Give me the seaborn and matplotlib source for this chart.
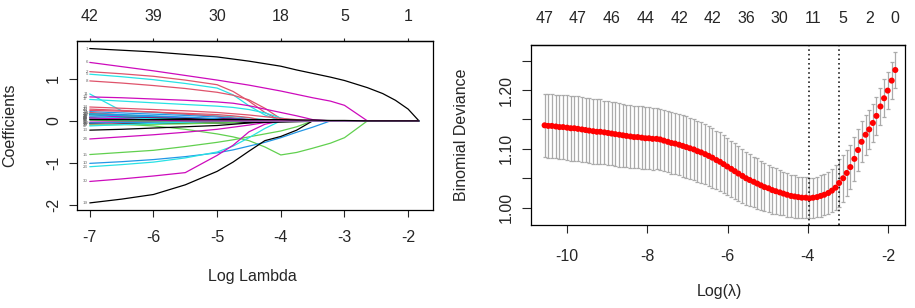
import numpy as np
import pandas as pd
import matplotlib
matplotlib.use('Agg')
import matplotlib.pyplot as plt
import seaborn as sns

# ---- left panel: coefficient paths (values read at a common log-lambda grid) ----
path_grid = [-7.0, -6.5, -6.0, -5.5, -5.0, -4.75, -4.5, -4.25, -4.0, -3.75,
             -3.5, -3.22, -3.0, -2.64, -2.4, -2.2, -2.0, -1.83]

path_ids = [1, 6, 2, 5, 8, 11, 12, 17, 14, 20, 4, 3, 7, 18,
            9, 13, 24, 15, 10, 23, 30, 19,
            26, 21, 16, 29, 36, 25, 32, 27, 22, 35, 42, 31, 38, 33, 28, 41, 44, 34, 47, 39, 45, 37]
path_colors = ['black', 'magenta', 'red', 'cyan', 'red', 'cyan', 'magenta', 'cyan', 'red', 'red',
               'blue', 'green', 'black', 'magenta',
               'green', 'black', 'magenta', 'green', 'blue', 'cyan', 'magenta', 'black',
               'red', 'green', 'blue', 'cyan', 'magenta', 'black', 'red', 'green', 'blue', 'cyan',
               'magenta', 'black', 'red', 'green', 'blue', 'cyan', 'red', 'blue', 'cyan', 'green',
               'magenta', 'black']
coef_paths = [
    [1.72, 1.68, 1.64, 1.58, 1.52, 1.47, 1.42, 1.36, 1.30, 1.21, 1.13, 1.04, 0.96, 0.79, 0.65, 0.49, 0.28, 0],
    [1.39, 1.29, 1.19, 1.08, 0.97, 0.91, 0.85, 0.78, 0.71, 0.63, 0.55, 0.47, 0.37, 0, 0, 0, 0, 0],
    [1.17, 1.12, 1.06, 0.97, 0.86, 0.70, 0.47, 0.20, 0, 0, 0, 0, 0, 0, 0, 0, 0, 0],
    [1.11, 1.05, 0.98, 0.89, 0.78, 0.62, 0.36, 0.14, 0, 0, 0, 0, 0, 0, 0, 0, 0, 0],
    [0.95, 0.90, 0.84, 0.77, 0.68, 0.61, 0.50, 0.30, 0.05, 0, 0, 0, 0, 0, 0, 0, 0, 0],
    [0.64, 0.24, 0.20, 0.16, 0.12, 0.10, 0.07, 0.03, 0, 0, 0, 0, 0, 0, 0, 0, 0, 0],
    [0.57, 0.55, 0.52, 0.49, 0.45, 0.42, 0.36, 0.28, 0.20, 0.12, 0.03, 0, 0, 0, 0, 0, 0, 0],
    [0.51, 0.47, 0.43, 0.39, 0.35, 0.32, 0.27, 0.19, 0.07, 0, 0, 0, 0, 0, 0, 0, 0, 0],
    [0.33, 0.30, 0.27, 0.24, 0.20, 0.17, 0.14, 0.10, 0.06, 0.03, 0, 0, 0, 0, 0, 0, 0, 0],
    [0.28, 0.25, 0.21, 0.16, 0.11, 0.07, 0.03, 0, 0, 0, 0, 0, 0, 0, 0, 0, 0, 0],
    [0.22, 0.19, 0.16, 0.13, 0.09, 0.06, 0.03, 0, 0, 0, 0, 0, 0, 0, 0, 0, 0, 0],
    [0.18, 0.14, 0.11, 0.07, 0.04, 0.02, 0, 0, 0, 0, 0, 0, 0, 0, 0, 0, 0, 0],
    [0.15, 0.12, 0.10, 0.07, 0.05, 0.03, 0.01, 0, 0, 0, 0, 0, 0, 0, 0, 0, 0, 0],
    [0.12, 0.10, 0.08, 0.06, 0.04, 0.03, 0.02, 0.01, 0, 0, 0, 0, 0, 0, 0, 0, 0, 0],
    [-0.05, -0.08, -0.12, -0.20, -0.31, -0.38, -0.47, -0.62, -0.81, -0.75, -0.65, -0.53, -0.40, 0, 0, 0, 0, 0],
    [-0.22, -0.20, -0.17, -0.14, -0.11, -0.08, -0.05, -0.02, 0, 0, 0, 0, 0, 0, 0, 0, 0, 0],
    [-0.43, -0.38, -0.33, -0.27, -0.20, -0.15, -0.10, -0.04, 0, 0, 0, 0, 0, 0, 0, 0, 0, 0],
    [-0.80, -0.75, -0.70, -0.61, -0.51, -0.45, -0.38, -0.31, -0.24, -0.14, 0, 0, 0, 0, 0, 0, 0, 0],
    [-1.01, -0.97, -0.92, -0.85, -0.76, -0.69, -0.60, -0.51, -0.40, -0.27, -0.15, 0, 0, 0, 0, 0, 0, 0],
    [-1.09, -1.04, -0.98, -0.88, -0.74, -0.60, -0.40, -0.18, 0, 0, 0, 0, 0, 0, 0, 0, 0, 0],
    [-1.44, -1.38, -1.31, -1.23, -0.82, -0.58, -0.26, -0.08, 0, 0, 0, 0, 0, 0, 0, 0, 0, 0],
    [-1.95, -1.86, -1.75, -1.52, -1.20, -0.98, -0.72, -0.47, -0.37, -0.22, 0, 0, 0, 0, 0, 0, 0, 0],
    [0.20, 0.14, 0.08, 0, 0, 0, 0, 0, 0, 0, 0, 0, 0, 0, 0, 0, 0, 0],
    [0.16, 0.13, 0.09, 0.05, 0, 0, 0, 0, 0, 0, 0, 0, 0, 0, 0, 0, 0, 0],
    [0.14, 0.12, 0.10, 0.07, 0.04, 0.02, 0, 0, 0, 0, 0, 0, 0, 0, 0, 0, 0, 0],
    [0.12, 0.06, 0, 0, 0, 0, 0, 0, 0, 0, 0, 0, 0, 0, 0, 0, 0, 0],
    [0.09, 0.08, 0.07, 0.06, 0.05, 0.04, 0.03, 0.015, 0, 0, 0, 0, 0, 0, 0, 0, 0, 0],
    [0.08, 0.07, 0.06, 0.05, 0.04, 0.035, 0.03, 0.025, 0.02, 0.01, 0, 0, 0, 0, 0, 0, 0, 0],
    [0.06, 0.02, 0, 0, 0, 0, 0, 0, 0, 0, 0, 0, 0, 0, 0, 0, 0, 0],
    [0.05, 0.03, 0.01, 0, 0, 0, 0, 0, 0, 0, 0, 0, 0, 0, 0, 0, 0, 0],
    [0.04, 0.035, 0.03, 0.025, 0.02, 0.015, 0.01, 0.005, 0, 0, 0, 0, 0, 0, 0, 0, 0, 0],
    [0.03, 0.01, 0, 0, 0, 0, 0, 0, 0, 0, 0, 0, 0, 0, 0, 0, 0, 0],
    [-0.03, -0.02, -0.01, -0.005, 0, 0, 0, 0, 0, 0, 0, 0, 0, 0, 0, 0, 0, 0],
    [-0.06, -0.06, -0.06, -0.055, -0.05, -0.045, -0.04, -0.035, -0.03, -0.02, -0.01, 0, 0, 0, 0, 0, 0, 0],
    [-0.08, -0.05, -0.03, 0, 0, 0, 0, 0, 0, 0, 0, 0, 0, 0, 0, 0, 0, 0],
    [-0.10, -0.09, -0.08, -0.07, -0.05, -0.04, 0, 0, 0, 0, 0, 0, 0, 0, 0, 0, 0, 0],
    [-0.05, -0.04, -0.03, -0.02, -0.01, 0, 0, 0, 0, 0, 0, 0, 0, 0, 0, 0, 0, 0],
    [0.09, 0.07, 0.05, 0.03, 0, 0, 0, 0, 0, 0, 0, 0, 0, 0, 0, 0, 0, 0],
    [0.25, 0.23, 0.21, 0.18, 0.15, 0.12, 0.08, 0, 0, 0, 0, 0, 0, 0, 0, 0, 0, 0],
    [0.17, 0.15, 0.12, 0.09, 0.05, 0, 0, 0, 0, 0, 0, 0, 0, 0, 0, 0, 0, 0],
    [-0.12, -0.09, -0.06, -0.03, 0, 0, 0, 0, 0, 0, 0, 0, 0, 0, 0, 0, 0, 0],
    [0.02, 0, 0, 0, 0, 0, 0, 0, 0, 0, 0, 0, 0, 0, 0, 0, 0, 0],
    [0.07, 0.05, 0.02, 0, 0, 0, 0, 0, 0, 0, 0, 0, 0, 0, 0, 0, 0, 0],
    [0.03, 0.03, 0.03, 0.03, 0.03, 0.03, 0.03, 0.03, 0.03, 0.02, 0.02, 0.01, 0.01, 0, 0, 0, 0, 0],
]
coef_top_pos = [-7, -6, -5, -4, -3, -2]
coef_top_labels = ['42', '39', '30', '18', '5', '1']

# R default palette colours
r_cols = {'black': '#000000', 'red': '#DF536B', 'green': '#61D04F',
          'blue': '#2297E6', 'cyan': '#28E2E5', 'magenta': '#CD0BBC'}

# ---- right panel: cross-validation curve ----
log_lambda = [-10.56, -10.47, -10.38, -10.28, -10.19, -10.10, -10.00, -9.91, -9.82, -9.73,
              -9.63, -9.54, -9.45, -9.35, -9.26, -9.17, -9.07, -8.98, -8.89, -8.80,
              -8.70, -8.61, -8.52, -8.42, -8.33, -8.24, -8.14, -8.05, -7.96, -7.87,
              -7.77, -7.68, -7.59, -7.49, -7.40, -7.31, -7.21, -7.12, -7.03, -6.94,
              -6.84, -6.75, -6.66, -6.56, -6.47, -6.38, -6.28, -6.19, -6.10, -6.01,
              -5.91, -5.82, -5.73, -5.63, -5.54, -5.45, -5.35, -5.26, -5.17, -5.08,
              -4.98, -4.89, -4.80, -4.70, -4.61, -4.52, -4.42, -4.33, -4.24, -4.15,
              -4.05, -3.96, -3.87, -3.77, -3.68, -3.59, -3.49, -3.40, -3.31, -3.22,
              -3.12, -3.03, -2.94, -2.84, -2.75, -2.66, -2.56, -2.47, -2.38, -2.29,
              -2.19, -2.10, -2.01, -1.91, -1.82]
cv_mean = [1.140, 1.139, 1.139, 1.138, 1.137, 1.137, 1.136, 1.135, 1.135, 1.134,
           1.133, 1.132, 1.131, 1.130, 1.129, 1.129, 1.128, 1.127, 1.126, 1.125,
           1.124, 1.123, 1.122, 1.121, 1.120, 1.120, 1.119, 1.118, 1.118, 1.117,
           1.117, 1.116, 1.114, 1.112, 1.110, 1.109, 1.107, 1.105, 1.103, 1.101,
           1.099, 1.096, 1.094, 1.091, 1.088, 1.085, 1.081, 1.078, 1.074, 1.070,
           1.066, 1.062, 1.058, 1.054, 1.050, 1.047, 1.044, 1.041, 1.038, 1.035,
           1.033, 1.030, 1.028, 1.026, 1.024, 1.022, 1.020, 1.019, 1.018, 1.017,
           1.017, 1.016, 1.017, 1.018, 1.020, 1.022, 1.025, 1.029, 1.034, 1.042,
           1.050, 1.059, 1.069, 1.083, 1.098, 1.112, 1.124, 1.133, 1.144, 1.156,
           1.172, 1.186, 1.199, 1.216, 1.234]
cv_se = [0.054, 0.054, 0.054, 0.054, 0.054, 0.055, 0.055, 0.055, 0.055, 0.055,
         0.055, 0.055, 0.055, 0.055, 0.055, 0.055, 0.054, 0.054, 0.054, 0.054,
         0.054, 0.054, 0.053, 0.053, 0.053, 0.053, 0.053, 0.053, 0.053, 0.053,
         0.052, 0.052, 0.052, 0.052, 0.052, 0.052, 0.052, 0.052, 0.052, 0.052,
         0.052, 0.052, 0.052, 0.051, 0.051, 0.051, 0.050, 0.050, 0.049, 0.049,
         0.048, 0.048, 0.047, 0.046, 0.045, 0.044, 0.043, 0.043, 0.042, 0.041,
         0.040, 0.040, 0.039, 0.038, 0.037, 0.037, 0.036, 0.036, 0.035, 0.035,
         0.035, 0.034, 0.034, 0.034, 0.035, 0.035, 0.036, 0.037, 0.038, 0.040,
         0.040, 0.039, 0.038, 0.037, 0.036, 0.035, 0.034, 0.033, 0.033, 0.032,
         0.032, 0.032, 0.031, 0.031, 0.031]
lambda_min_log = -3.96
lambda_1se_log = -3.22
cv_top_pos = [-10.56, -9.73, -8.89, -8.05, -7.21, -6.38, -5.54, -4.70, -3.87, -3.12, -2.47, -1.82]
cv_top_labels = ['47', '47', '46', '44', '42', '42', '36', '30', '11', '5', '2', '0']

# ---- build long table for seaborn ----
rows = []
for vid, vals in zip(path_ids, coef_paths):
    for lx, c in zip(path_grid, vals):
        rows.append({'var': vid, 'lx': lx, 'coef': c})
paths_df = pd.DataFrame(rows)
pal = {vid: r_cols[col] for vid, col in zip(path_ids, path_colors)}

sns.set_style('white')
plt.rcParams['font.family'] = ['Liberation Sans', 'DejaVu Sans']
plt.rcParams['axes.edgecolor'] = 'black'
plt.rcParams['axes.linewidth'] = 0.9
plt.rcParams['axes.unicode_minus'] = False

FS = 11.5

fig = plt.figure(figsize=(9.15, 3.08), dpi=100)
ax1 = fig.add_axes([0.0842, 0.318, 0.389, 0.549])
ax2 = fig.add_axes([0.5803, 0.2695, 0.4087, 0.5844])

# left: coefficient paths
sns.lineplot(data=paths_df, x='lx', y='coef', hue='var', hue_order=path_ids,
             palette=pal, estimator=None, sort=False, legend=False,
             linewidth=0.9, ax=ax1)
for vid, vals in zip(path_ids, coef_paths):
    ax1.text(-7.03, vals[0], str(vid), fontsize=3.2, color='#666666',
             ha='right', va='center')
ax1.set_xlim(-7.2, -1.61)
ax1.set_ylim(-2.12, 1.9)
ax1.set_xticks([-7, -6, -5, -4, -3, -2])
ax1.set_yticks([-2, -1, 0, 1])
ax1.set_xlabel('Log Lambda', fontsize=FS, va='center')
ax1.set_ylabel('Coefficients', fontsize=FS, va='center')
ax1.xaxis.set_label_coords(0.494, -0.39)
ax1.yaxis.set_label_coords(-0.188, 0.5)
ax1.tick_params(axis='x', length=5, width=0.8, pad=9, labelsize=FS, direction='out', bottom=True)
ax1.tick_params(axis='y', length=5.5, width=0.8, pad=6, labelsize=FS, direction='out',
                left=True, labelrotation=90)
for lab in ax1.get_yticklabels():
    lab.set_va('center')
top1 = ax1.secondary_xaxis('top')
top1.set_xticks(coef_top_pos, labels=coef_top_labels)
top1.tick_params(length=2.5, width=0.8, pad=10, labelsize=FS)

# right: CV curve
ax2.errorbar(log_lambda, cv_mean, yerr=cv_se, fmt='none', ecolor='#ABABAB',
             elinewidth=0.9, capsize=1.5, capthick=0.9, zorder=1)
sns.scatterplot(x=log_lambda, y=cv_mean, color='red', s=19, edgecolor='none',
                linewidth=0, ax=ax2, zorder=3)
ax2.axvline(lambda_min_log, color='black', linestyle=(0, (1, 2)), linewidth=1.1, zorder=2)
ax2.axvline(lambda_1se_log, color='black', linestyle=(0, (1, 2)), linewidth=1.1, zorder=2)
ax2.set_xlim(-10.9, -1.58)
ax2.set_ylim(0.9706, 1.2765)
ax2.set_xticks([-10, -8, -6, -4, -2])
ax2.set_yticks([1.00, 1.05, 1.10, 1.15, 1.20, 1.25],
               labels=['1.00', '', '1.10', '', '1.20', ''])
ax2.set_xlabel('Log(λ)', fontsize=FS, va='center')
ax2.set_ylabel('Binomial Deviance', fontsize=FS, va='center')
ax2.xaxis.set_label_coords(0.505, -0.37)
ax2.yaxis.set_label_coords(-0.1845, 0.5)
ax2.tick_params(axis='x', length=6, width=0.8, pad=11, labelsize=FS, direction='out', bottom=True)
ax2.tick_params(axis='y', length=6.5, width=0.8, pad=6, labelsize=FS, direction='out',
                left=True, labelrotation=90)
for lab in ax2.get_yticklabels():
    lab.set_va('center')
top2 = ax2.secondary_xaxis('top')
top2.set_xticks(cv_top_pos, labels=cv_top_labels)
top2.tick_params(length=0, pad=14, labelsize=FS)

for ax in (ax1, ax2):
    for sp in ax.spines.values():
        sp.set_visible(True)
        sp.set_color('black')

fig.savefig('out.png', dpi=100)
